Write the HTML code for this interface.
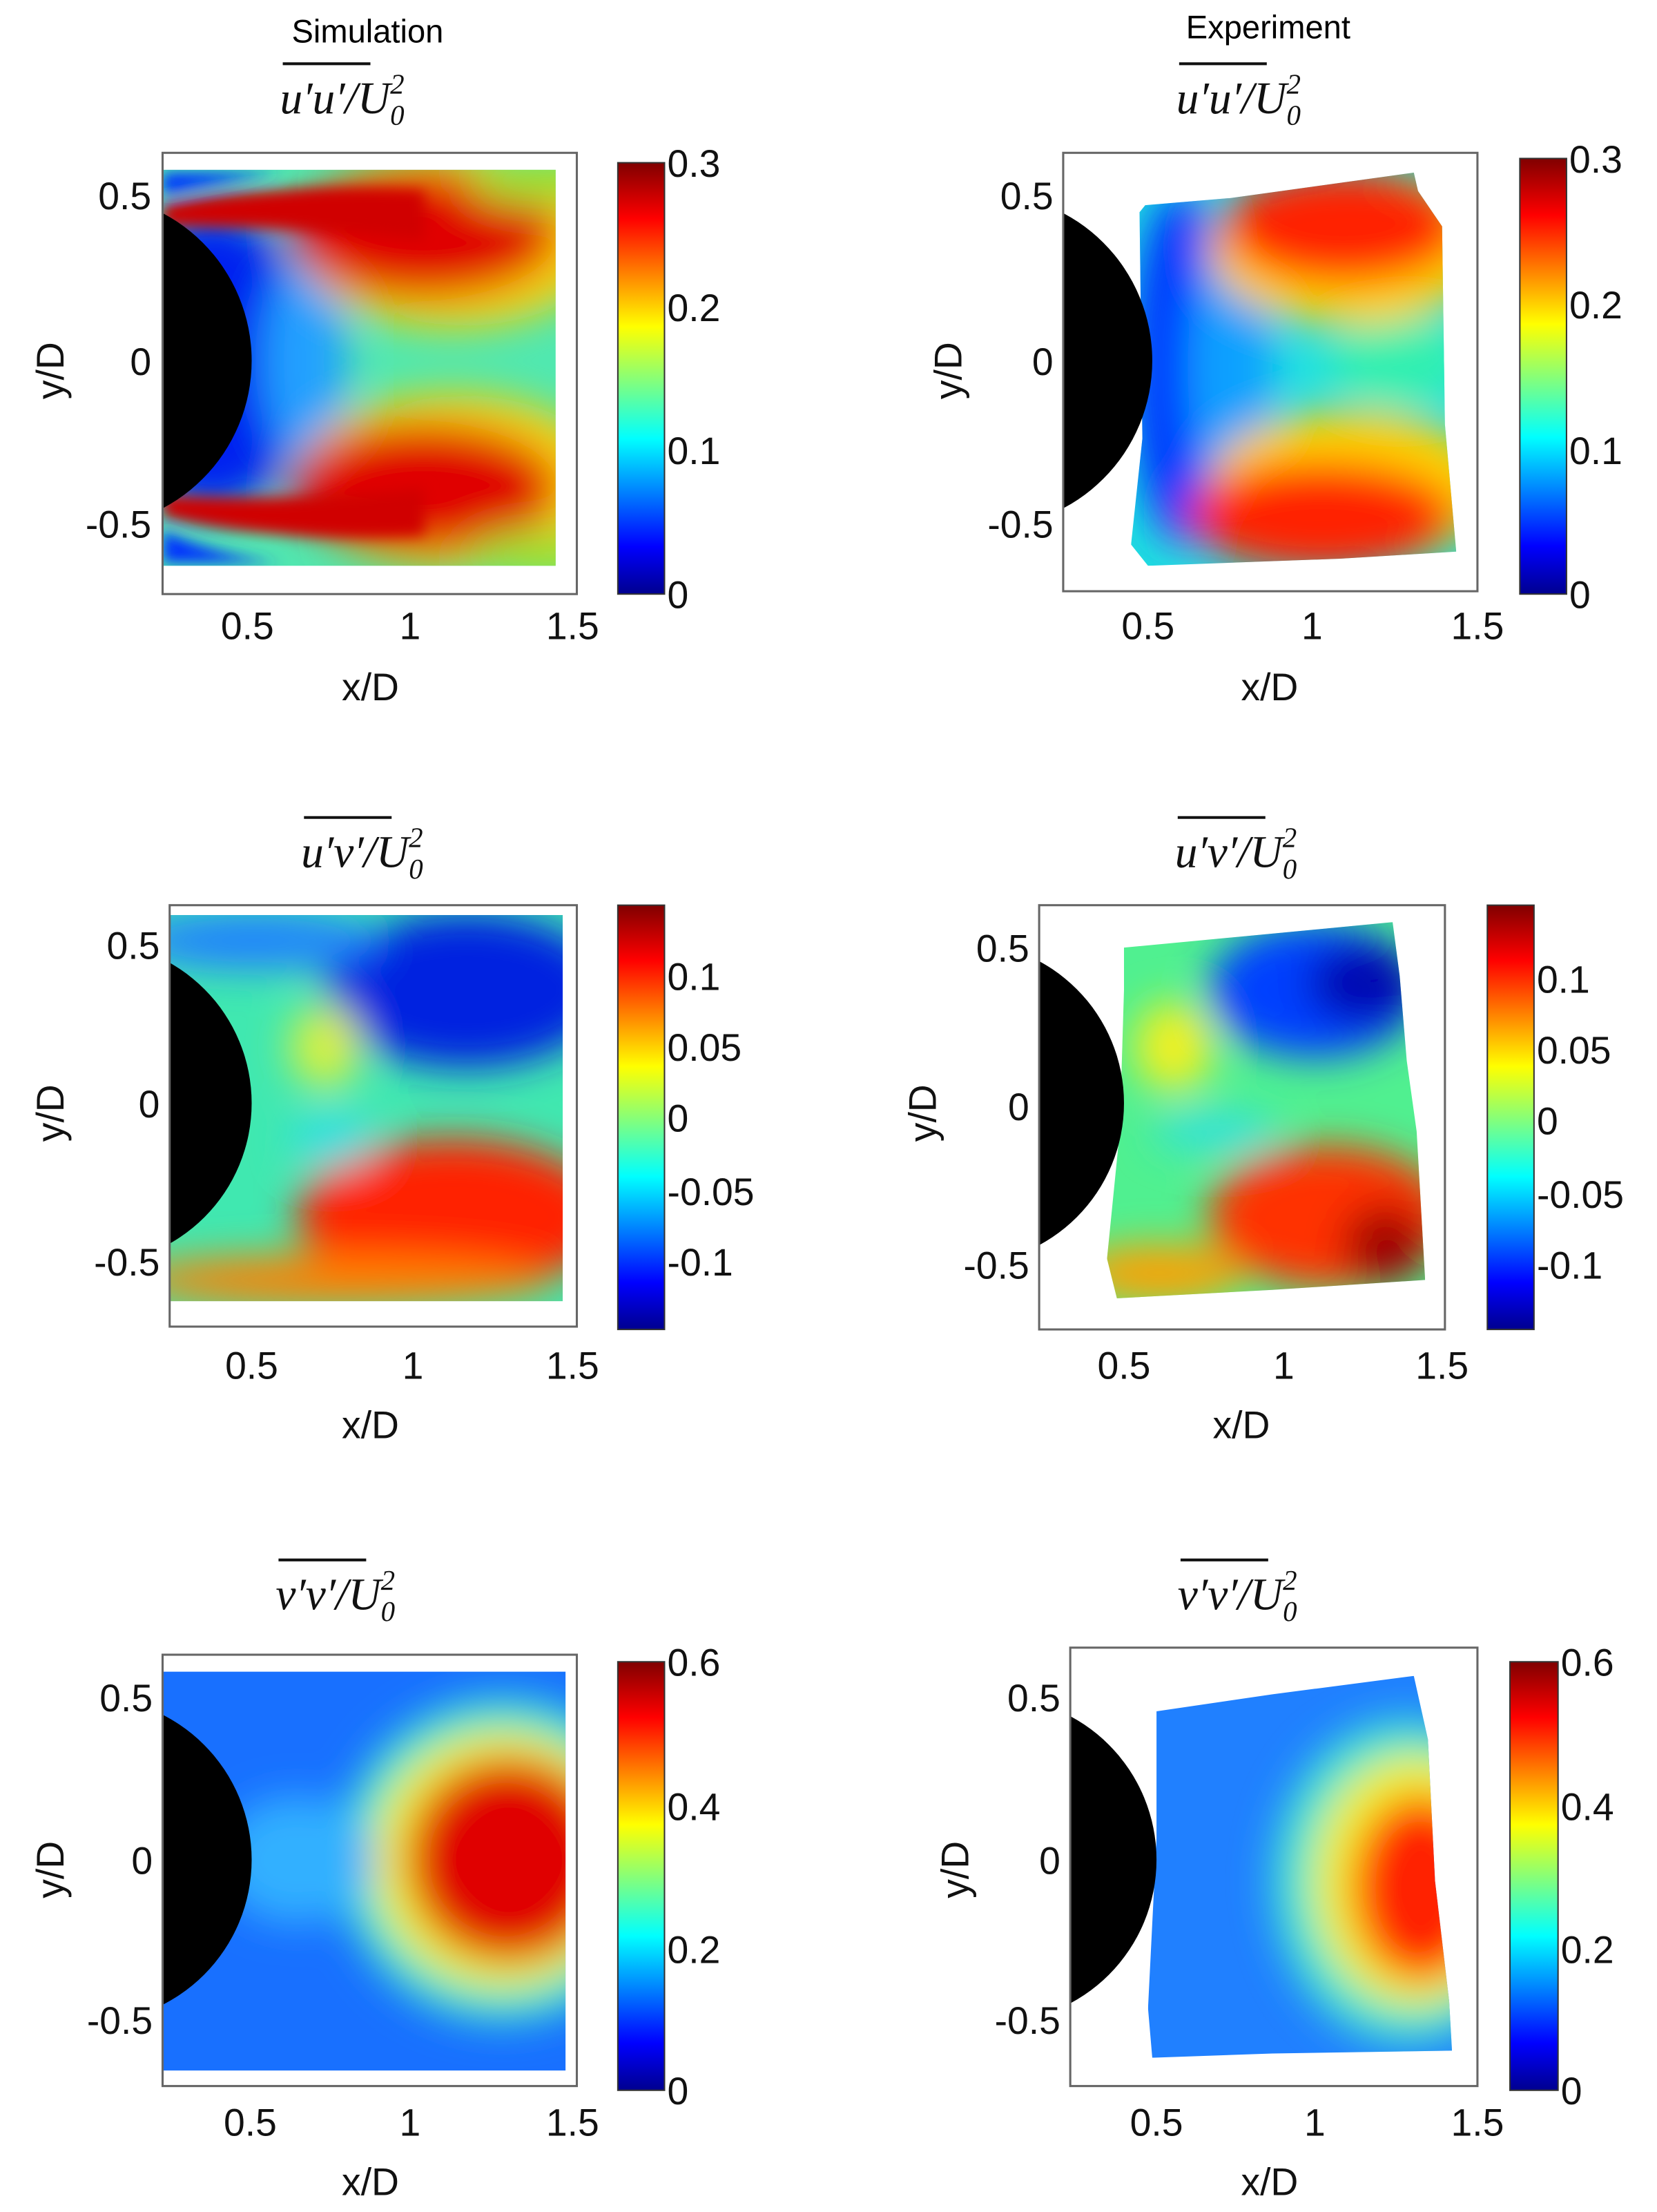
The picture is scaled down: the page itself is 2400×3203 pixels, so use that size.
<!DOCTYPE html>
<html><head><style>
html,body{margin:0;padding:0;background:#fff;}
svg{display:block;}
text{font-family:"Liberation Sans",Arial,sans-serif;}
.tk{font-size:27px;fill:#111;}
.lb{font-size:27px;fill:#111;}
.mt{font-family:"Liberation Serif",serif;font-style:italic;font-size:32px;fill:#111;}
</style></head><body>
<svg width="2400" height="3203" viewBox="0 0 1172 1564" xmlns="http://www.w3.org/2000/svg">
<defs>
<linearGradient id="jet" x1="0" y1="1" x2="0" y2="0">
<stop offset="0" stop-color="#00008f"/><stop offset="0.11" stop-color="#0000ff"/>
<stop offset="0.36" stop-color="#00ffff"/><stop offset="0.62" stop-color="#ffff00"/>
<stop offset="0.87" stop-color="#ff0000"/><stop offset="1" stop-color="#800000"/>
</linearGradient>
<filter id="b" x="-50%" y="-50%" width="200%" height="200%"><feGaussianBlur stdDeviation="14"/></filter>
<filter id="b2" x="-50%" y="-50%" width="200%" height="200%"><feGaussianBlur stdDeviation="5"/></filter>
<clipPath id="c1"><rect x="115" y="120" width="278" height="280"/></clipPath>
<clipPath id="c2"><polygon points="810,145 870,140 1000,122 1003,135 1020,160 1022,300 1030,390 948,395 812,400 800,385 808,310 806,150"/></clipPath>
<clipPath id="c3"><rect x="120" y="647" width="278" height="273"/></clipPath>
<clipPath id="c4"><polygon points="795,670 880,662 985,652 990,690 995,750 1002,800 1008,905 900,912 790,918 783,890 792,800 795,700"/></clipPath>
<clipPath id="c5"><rect x="115" y="1182" width="285" height="282"/></clipPath>
<clipPath id="c6"><polygon points="818,1210 900,1198 1000,1185 1010,1230 1015,1330 1025,1415 1027,1450 900,1452 815,1455 812,1420 818,1300"/></clipPath>
<clipPath id="a1"><rect x="115" y="108" width="293" height="312"/></clipPath>
<clipPath id="a2"><rect x="752" y="108" width="293" height="310"/></clipPath>
<clipPath id="a3"><rect x="120" y="640" width="288" height="298"/></clipPath>
<clipPath id="a4"><rect x="735" y="640" width="287" height="300"/></clipPath>
<clipPath id="a5"><rect x="115" y="1170" width="293" height="305"/></clipPath>
<clipPath id="a6"><rect x="757" y="1165" width="288" height="310"/></clipPath>
</defs>

<text x="260" y="30" text-anchor="middle" style="font-size:23px">Simulation</text>
<text x="897" y="27" text-anchor="middle" style="font-size:23px">Experiment</text>

<g>
<line x1="200" y1="45" x2="262" y2="45" stroke="#111" stroke-width="2"/>
<text class="mt" x="198" y="80">u′u′/U<tspan font-size="20" dy="8">0</tspan><tspan font-size="20" dx="-10" dy="-22">2</tspan></text>
<line x1="834" y1="45" x2="896" y2="45" stroke="#111" stroke-width="2"/>
<text class="mt" x="832" y="80">u′u′/U<tspan font-size="20" dy="8">0</tspan><tspan font-size="20" dx="-10" dy="-22">2</tspan></text>
<line x1="215" y1="578" x2="277" y2="578" stroke="#111" stroke-width="2"/>
<text class="mt" x="213" y="613">u′v′/U<tspan font-size="20" dy="8">0</tspan><tspan font-size="20" dx="-10" dy="-22">2</tspan></text>
<line x1="833" y1="578" x2="895" y2="578" stroke="#111" stroke-width="2"/>
<text class="mt" x="831" y="613">u′v′/U<tspan font-size="20" dy="8">0</tspan><tspan font-size="20" dx="-10" dy="-22">2</tspan></text>
<line x1="197" y1="1103" x2="259" y2="1103" stroke="#111" stroke-width="2"/>
<text class="mt" x="195" y="1138">v′v′/U<tspan font-size="20" dy="8">0</tspan><tspan font-size="20" dx="-10" dy="-22">2</tspan></text>
<line x1="835" y1="1103" x2="897" y2="1103" stroke="#111" stroke-width="2"/>
<text class="mt" x="833" y="1138">v′v′/U<tspan font-size="20" dy="8">0</tspan><tspan font-size="20" dx="-10" dy="-22">2</tspan></text>
</g>

<!-- Panel 1 sim uu -->
<g clip-path="url(#c1)">
<rect x="100" y="100" width="320" height="320" fill="#50e8b0"/>
<g filter="url(#b)">
<ellipse cx="150" cy="255" rx="70" ry="105" fill="#0020f0"/>
<ellipse cx="215" cy="255" rx="30" ry="70" fill="#20a0ff"/>
<ellipse cx="320" cy="170" rx="110" ry="62" fill="#f8d010"/>
<ellipse cx="320" cy="340" rx="110" ry="62" fill="#f8d010"/>
<ellipse cx="300" cy="165" rx="95" ry="45" fill="#e00000"/>
<ellipse cx="300" cy="345" rx="95" ry="45" fill="#e00000"/>
<ellipse cx="390" cy="128" rx="60" ry="18" fill="#a0e030"/>
<ellipse cx="390" cy="392" rx="60" ry="18" fill="#a0e030"/>
</g>
<g filter="url(#b2)">
<path d="M115,145 Q200,128 300,135 L300,170 Q200,160 115,160Z" fill="#d00000"/>
<path d="M115,365 Q200,385 300,378 L300,345 Q200,355 115,350Z" fill="#d00000"/>
<path d="M115,122 L200,122 Q150,130 115,138Z" fill="#0030ff"/>
<path d="M115,398 L200,398 Q150,392 115,375Z" fill="#0030ff"/>
</g>
</g>
<g clip-path="url(#a1)"><circle cx="60" cy="255" r="118" fill="#000"/></g>
<rect x="115" y="108" width="293" height="312" fill="none" stroke="#666" stroke-width="1.5"/>

<!-- Panel 2 exp uu -->
<g clip-path="url(#c2)">
<rect x="780" y="100" width="270" height="320" fill="#20e0e0"/>
<g filter="url(#b)">
<ellipse cx="835" cy="260" rx="35" ry="125" fill="#0030ff"/>
<ellipse cx="870" cy="260" rx="30" ry="90" fill="#10a0ff"/>
<ellipse cx="990" cy="255" rx="50" ry="30" fill="#30f0b0"/>
<ellipse cx="955" cy="175" rx="100" ry="55" fill="#ffd000"/>
<ellipse cx="955" cy="345" rx="100" ry="55" fill="#ffd000"/>
<ellipse cx="950" cy="160" rx="85" ry="40" fill="#ff2000"/>
<ellipse cx="935" cy="365" rx="95" ry="38" fill="#ff2000"/>
</g>
</g>
<g clip-path="url(#a2)"><circle cx="697" cy="255" r="118" fill="#000"/></g>
<rect x="752" y="108" width="293" height="310" fill="none" stroke="#666" stroke-width="1.5"/>

<!-- Panel 3 sim uv -->
<g clip-path="url(#c3)">
<rect x="100" y="640" width="310" height="290" fill="#40e8b0"/>
<g filter="url(#b)">
<ellipse cx="330" cy="700" rx="100" ry="55" fill="#0020e0"/>
<ellipse cx="180" cy="665" rx="90" ry="20" fill="#2080ff"/>
<ellipse cx="320" cy="860" rx="110" ry="55" fill="#ff2000"/>
<ellipse cx="240" cy="905" rx="150" ry="18" fill="#ff8000"/>
<ellipse cx="230" cy="740" rx="25" ry="30" fill="#d8f040"/>
<ellipse cx="235" cy="805" rx="30" ry="20" fill="#30e0e0"/>
</g>
</g>
<g clip-path="url(#a3)"><circle cx="64" cy="780" r="114" fill="#000"/></g>
<rect x="120" y="640" width="288" height="298" fill="none" stroke="#666" stroke-width="1.5"/>

<!-- Panel 4 exp uv -->
<g clip-path="url(#c4)">
<rect x="770" y="640" width="250" height="290" fill="#50f090"/>
<g filter="url(#b)">
<ellipse cx="930" cy="700" rx="75" ry="48" fill="#0040ff"/>
<ellipse cx="965" cy="695" rx="40" ry="28" fill="#0000b0"/>
<ellipse cx="940" cy="860" rx="85" ry="50" fill="#ff3000"/>
<ellipse cx="980" cy="880" rx="30" ry="28" fill="#a00000"/>
<ellipse cx="830" cy="740" rx="28" ry="32" fill="#f0f020"/>
<ellipse cx="860" cy="800" rx="45" ry="14" fill="#30e0e0"/>
<ellipse cx="820" cy="900" rx="60" ry="20" fill="#ffa000"/>
</g>
</g>
<g clip-path="url(#a4)"><circle cx="681" cy="780" r="114" fill="#000"/></g>
<rect x="735" y="640" width="287" height="300" fill="none" stroke="#666" stroke-width="1.5"/>

<!-- Panel 5 sim vv -->
<g clip-path="url(#c5)">
<rect x="100" y="1170" width="310" height="300" fill="#1870ff"/>
<g filter="url(#b)">
<ellipse cx="355" cy="1315" rx="115" ry="115" fill="#40e8d0"/>
<ellipse cx="355" cy="1315" rx="92" ry="92" fill="#f0f020"/>
<ellipse cx="360" cy="1315" rx="72" ry="72" fill="#e00000"/>
<ellipse cx="210" cy="1315" rx="55" ry="45" fill="#30b0ff"/>
</g>
</g>
<g clip-path="url(#a5)"><circle cx="63" cy="1315" r="115" fill="#000"/></g>
<rect x="115" y="1170" width="293" height="305" fill="none" stroke="#666" stroke-width="1.5"/>

<!-- Panel 6 exp vv -->
<g clip-path="url(#c6)">
<rect x="800" y="1170" width="240" height="300" fill="#2080ff"/>
<g filter="url(#b)">
<ellipse cx="995" cy="1330" rx="95" ry="115" fill="#40e8d0"/>
<ellipse cx="1000" cy="1330" rx="72" ry="90" fill="#f0f020"/>
<ellipse cx="1005" cy="1335" rx="48" ry="65" fill="#ff2000"/>
</g>
</g>
<g clip-path="url(#a6)"><circle cx="703" cy="1315" r="115" fill="#000"/></g>
<rect x="757" y="1165" width="288" height="310" fill="none" stroke="#666" stroke-width="1.5"/>

<rect x="437" y="115" width="33" height="305" fill="url(#jet)" stroke="#333"/>
<rect x="1075" y="112" width="33" height="308" fill="url(#jet)" stroke="#333"/>
<rect x="437" y="640" width="33" height="300" fill="url(#jet)" stroke="#333"/>
<rect x="1052" y="640" width="33" height="300" fill="url(#jet)" stroke="#333"/>
<rect x="437" y="1175" width="33" height="303" fill="url(#jet)" stroke="#333"/>
<rect x="1068" y="1175" width="34" height="303" fill="url(#jet)" stroke="#333"/>

<g class="tk">
<text x="472" y="125">0.3</text><text x="472" y="227">0.2</text><text x="472" y="328">0.1</text><text x="472" y="430">0</text>
<text x="1110" y="122">0.3</text><text x="1110" y="225">0.2</text><text x="1110" y="328">0.1</text><text x="1110" y="430">0</text>
<text x="472" y="700">0.1</text><text x="472" y="750">0.05</text><text x="472" y="800">0</text><text x="472" y="852">-0.05</text><text x="472" y="902">-0.1</text>
<text x="1087" y="702">0.1</text><text x="1087" y="752">0.05</text><text x="1087" y="802">0</text><text x="1087" y="854">-0.05</text><text x="1087" y="904">-0.1</text>
<text x="472" y="1185">0.6</text><text x="472" y="1287">0.4</text><text x="472" y="1388">0.2</text><text x="472" y="1488">0</text>
<text x="1104" y="1185">0.6</text><text x="1104" y="1287">0.4</text><text x="1104" y="1388">0.2</text><text x="1104" y="1488">0</text>
<g text-anchor="end">
<text x="107" y="148">0.5</text><text x="107" y="265">0</text><text x="107" y="380">-0.5</text>
<text x="745" y="148">0.5</text><text x="745" y="265">0</text><text x="745" y="380">-0.5</text>
<text x="113" y="678">0.5</text><text x="113" y="790">0</text><text x="113" y="902">-0.5</text>
<text x="728" y="680">0.5</text><text x="728" y="792">0</text><text x="728" y="904">-0.5</text>
<text x="108" y="1210">0.5</text><text x="108" y="1325">0</text><text x="108" y="1438">-0.5</text>
<text x="750" y="1210">0.5</text><text x="750" y="1325">0</text><text x="750" y="1438">-0.5</text>
</g>
<g text-anchor="middle">
<text x="175" y="452">0.5</text><text x="290" y="452">1</text><text x="405" y="452">1.5</text>
<text x="812" y="452">0.5</text><text x="928" y="452">1</text><text x="1045" y="452">1.5</text>
<text x="178" y="975">0.5</text><text x="292" y="975">1</text><text x="405" y="975">1.5</text>
<text x="795" y="975">0.5</text><text x="908" y="975">1</text><text x="1020" y="975">1.5</text>
<text x="177" y="1510">0.5</text><text x="290" y="1510">1</text><text x="405" y="1510">1.5</text>
<text x="818" y="1510">0.5</text><text x="930" y="1510">1</text><text x="1045" y="1510">1.5</text>
</g>
</g>
<g class="lb" text-anchor="middle">
<text x="262" y="495">x/D</text><text x="898" y="495">x/D</text>
<text x="262" y="1017">x/D</text><text x="878" y="1017">x/D</text>
<text x="262" y="1552">x/D</text><text x="898" y="1552">x/D</text>
<text transform="translate(45,262) rotate(-90)">y/D</text>
<text transform="translate(680,262) rotate(-90)">y/D</text>
<text transform="translate(45,787) rotate(-90)">y/D</text>
<text transform="translate(662,787) rotate(-90)">y/D</text>
<text transform="translate(45,1322) rotate(-90)">y/D</text>
<text transform="translate(685,1322) rotate(-90)">y/D</text>
</g>
</svg>
</body></html>
